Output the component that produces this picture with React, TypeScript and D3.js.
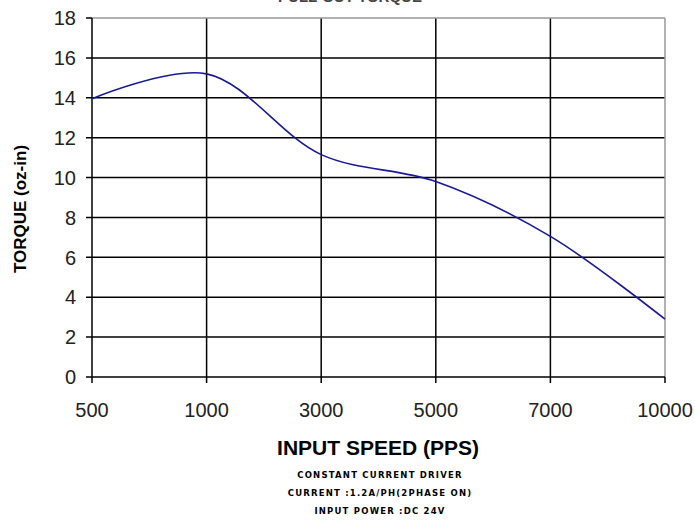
import React from "react";
import * as d3 from "d3";

const speeds = ["500", "1000", "3000", "5000", "7000", "10000"];
const torque = [13.95, 15.2, 11.15, 9.8, 7.05, 2.9];
const yTicks = [0, 2, 4, 6, 8, 10, 12, 14, 16, 18];
const title = "PULL-OUT TORQUE";
const xLabel = "INPUT SPEED (PPS)";
const yLabel = "TORQUE (oz-in)";
const notes = ["CONSTANT CURRENT DRIVER", "CURRENT :1.2A/PH(2PHASE ON)", "INPUT POWER :DC 24V"];

const W = 695, H = 520;
const left = 92, right = 665, top = 18, bottom = 377;

export default function App() {
  const x = d3.scalePoint<string>().domain(speeds).range([left, right]);
  const y = d3.scaleLinear().domain([0, 18]).range([bottom, top]);
  const line = d3
    .line<number>()
    .x((_, i) => x(speeds[i]) as number)
    .y((d) => y(d))
    .curve(d3.curveCatmullRom.alpha(0.5));

  const font = "Liberation Sans, Arial, sans-serif";
  return (
    <svg width={W} height={H} style={{ position: "absolute", left: 0, top: 0, background: "#fff" }}>
      <text x={350} y={2} textAnchor="middle" fontFamily={font} fontWeight="bold" fontSize={15} fill="#444">{title}</text>
      {yTicks.filter((t) => t > 0 && t < 18).map((t) => (
        <line key={"h" + t} x1={left - 6} x2={right} y1={y(t)} y2={y(t)} stroke="#000" strokeWidth={1.5} />
      ))}
      {speeds.slice(1, -1).map((s) => (
        <line key={"v" + s} x1={x(s)} x2={x(s)} y1={top} y2={bottom + 6} stroke="#000" strokeWidth={1.5} />
      ))}
      <line x1={left} x2={right} y1={top} y2={top} stroke="#999" strokeWidth={1.5} />
      <line x1={right} x2={right} y1={top} y2={bottom} stroke="#999" strokeWidth={1.5} />
      <line x1={left} x2={left} y1={top} y2={bottom + 6} stroke="#000" strokeWidth={1.5} />
      <line x1={left - 6} x2={right} y1={bottom} y2={bottom} stroke="#000" strokeWidth={1.5} />
      <line x1={left - 6} x2={left} y1={top} y2={top} stroke="#000" strokeWidth={1.5} />
      <line x1={right} x2={right} y1={bottom} y2={bottom + 6} stroke="#000" strokeWidth={1.5} />
      {yTicks.map((t) => (
        <text key={"yt" + t} x={76} y={y(t)} dy="0.36em" textAnchor="end" fontFamily={font} fontSize={20} fill="#222">{t}</text>
      ))}
      {speeds.map((s) => (
        <text key={"xt" + s} x={x(s)} y={409.5} dy="0.36em" textAnchor="middle" fontFamily={font} fontSize={20} fill="#222">{s}</text>
      ))}
      <path d={line(torque) || ""} fill="none" stroke="#1a1a96" strokeWidth={1.6} />
      <text x={378} y={447} dy="0.36em" textAnchor="middle" fontFamily={font} fontWeight="bold" fontSize={21} fill="#000">{xLabel}</text>
      <text transform={`translate(20,209) rotate(-90)`} dy="0.36em" textAnchor="middle" fontFamily={font} fontWeight="bold" fontSize={17} fill="#000">{yLabel}</text>
      {notes.map((n, i) => (
        <text key={"n" + i} x={380} y={475 + i * 18} dy="0.36em" textAnchor="middle" fontFamily="DejaVu Sans, sans-serif" fontWeight="bold" fontSize={8.5} letterSpacing={1.2} fill="#000">{n}</text>
      ))}
    </svg>
  );
}
